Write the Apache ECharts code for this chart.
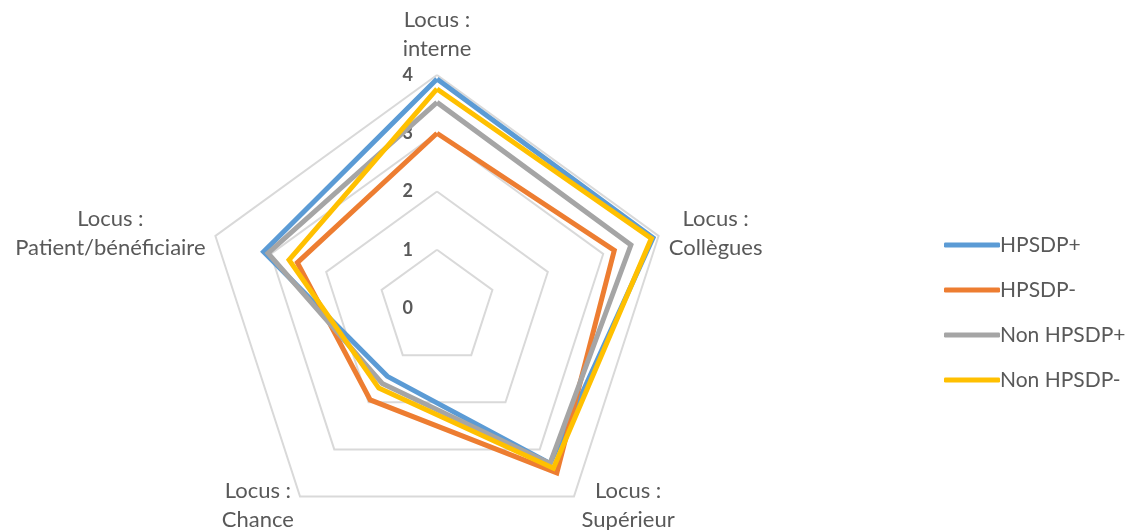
<!DOCTYPE html>
<html>
<head>
<meta charset="utf-8">
<script src="https://cdn.jsdelivr.net/npm/echarts@6/dist/echarts.min.js"></script>
<style>
html,body{margin:0;padding:0;background:#fff;}
#chart{width:1129px;height:530px;}
</style>
</head>
<body>
<div id="chart"></div>
<script>
// Indicators listed counter-clockwise from the top (ECharts radar order)
const categories = ['Locus :\ninterne', 'Locus :\nPatient/bénéficiaire', 'Locus :\nChance', 'Locus :\nSupérieur', 'Locus :\nCollègues'];
const seriesNames = ['HPSDP+', 'HPSDP-', 'Non HPSDP+', 'Non HPSDP-'];
const hpsdpPlus = [3.93, 3.13, 1.45, 3.3, 3.9];
const hpsdpMinus = [3.0, 2.52, 1.95, 3.5, 3.2];
const nonHpsdpPlus = [3.53, 3.05, 1.6, 3.3, 3.5];
const nonHpsdpMinus = [3.76, 2.67, 1.7, 3.4, 3.87];
const axisMax = 4;
const colors = ['#5B9BD5', '#ED7D31', '#A5A5A5', '#FFC000'];

const values = [hpsdpPlus, hpsdpMinus, nonHpsdpPlus, nonHpsdpMinus];

// per-indicator name placement tweaks
const nameLayout = [
  { gap: 12, style: { align: 'center', verticalAlign: 'bottom' } },
  { gap: 10, style: { align: 'center', verticalAlign: 'middle', padding: [0, 191, 0, 0] } },
  { gap: 10.5, style: { align: 'center', verticalAlign: 'middle', padding: [0, 72, 0, 0] } },
  { gap: 10.5, style: { align: 'center', verticalAlign: 'middle', padding: [0, 0, 0, 96] } },
  { gap: 10, style: { align: 'center', verticalAlign: 'middle', padding: [0, 0, 0, 95] } }
];

const chart = echarts.init(document.getElementById('chart'), null, { renderer: 'canvas' });
const option = {
  animation: false,
  backgroundColor: '#ffffff',
  legend: {
    orient: 'vertical',
    left: 939,
    top: 228,
    itemWidth: 56,
    itemHeight: 5,
    itemGap: 21,
    icon: 'roundRect',
    data: seriesNames,
    textStyle: {
      fontFamily: 'Lato',
      fontSize: 21,
      lineHeight: 24,
      color: '#595959',
      padding: [0, 0, 0, -5]
    }
  },
  radar: {
    center: [437, 308],
    radius: 233,
    startAngle: 90,
    shape: 'polygon',
    splitNumber: 4,
    axisName: {
      fontFamily: 'Lato',
      fontSize: 22,
      lineHeight: 29,
      color: '#595959'
    },
    axisLine: { show: false },
    axisTick: { show: false },
    splitArea: { show: false },
    splitLine: { lineStyle: { color: '#D9D9D9', width: 2 } },
    axisLabel: {
      show: false,
      fontFamily: 'Lato',
      fontSize: 18,
      fontWeight: 'bold',
      color: '#595959',
      margin: 24
    },
    indicator: categories.map(function (c, i) {
      return {
        name: c,
        min: 0,
        max: axisMax,
        nameGap: nameLayout[i].gap,
        nameTextStyle: nameLayout[i].style,
        axisLabel: { show: i === 0 }
      };
    })
  },
  series: seriesNames.map(function (n, i) {
    return {
      type: 'radar',
      name: n,
      symbol: 'none',
      z: 2 + i,
      itemStyle: { color: colors[i] },
      lineStyle: { color: colors[i], width: 5, join: 'miter' },
      data: [{ name: n, value: values[i] }]
    };
  })
};
chart.setOption(option);
</script>
</body>
</html>
